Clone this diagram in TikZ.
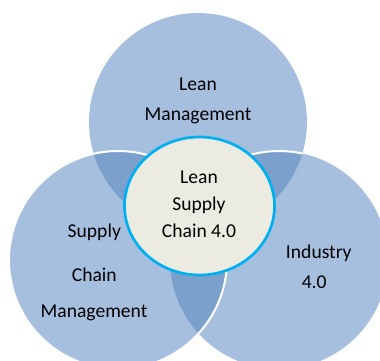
\documentclass[tikz,border=0pt]{standalone}
\usepackage{fontspec}
\setmainfont{Carlito}
\usepackage{tikz}
\definecolor{venn}{HTML}{A7BFDE}
\definecolor{vennover}{HTML}{7BA0CC}
\definecolor{core}{HTML}{ECEBE1}
\definecolor{coreline}{HTML}{00B0F0}

\begin{document}
\begin{tikzpicture}[x = 1pt, y = -1pt, txt/.style = {anchor = base, inner sep = 0pt, font = \fontsize{19.6}{24}\selectfont}]
          \clip (0, 0) rectangle (380, 360);
          \coordinate (lean) at (198, 122);
          \coordinate (scm) at (118, 260);
          \coordinate (ind) at (279, 260);
          \fill[venn] (lean) circle (109);
          \fill[venn] (scm) circle (109);
          \fill[venn] (ind) circle (109);
          \begin{scope}
            \clip (lean) circle (109);
            \fill[vennover] (scm) circle (109);
            \fill[vennover] (ind) circle (109);
            \draw[white, line width = 2] (ind) circle (109);
          \end{scope}
          \begin{scope}
            \clip (scm) circle (109);
            \fill[vennover] (ind) circle (109);
          \end{scope}
          \draw[white, line width = 2] (scm) circle (109);
          \draw[coreline, fill = core, line width = 2.7] (199.5, 206) ellipse (75 and 69);
          \node[txt] (lean1) at (198, 90) {Lean};
          \node[txt] (lean2) at (198, 120) {Management};
          \node[txt] (core1) at (199, 183.3) {Lean};
          \node[txt] (core2) at (199, 210.7) {Supply};
          \node[txt] (core3) at (199, 237.3) {Chain 4.0};
          \node[txt] (scm1) at (94.3, 237.3) {Supply};
          \node[txt] (scm2) at (94.3, 281.7) {Chain};
          \node[txt] (scm3) at (94, 317.3) {Management};
          \node[txt] (ind1) at (318.8, 258.3) {Industry};
          \node[txt] (ind2) at (314.2, 288.3) {4.0};
        \end{tikzpicture}
\end{document}
